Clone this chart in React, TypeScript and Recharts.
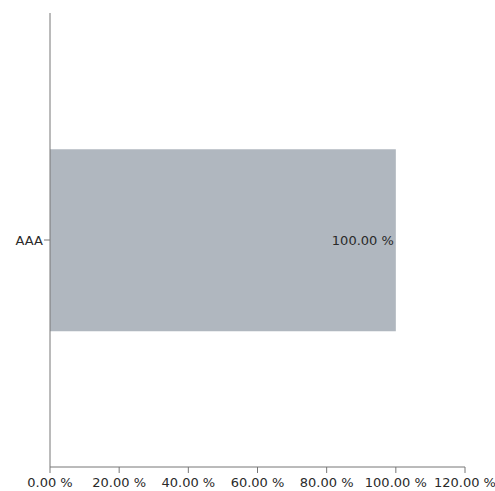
import React from 'react';
import { BarChart, Bar, XAxis, YAxis, LabelList } from 'recharts';

const categories = ['AAA'];
const shareValues = [100];
const xTicks = [0, 20, 40, 60, 80, 100, 120];

const data = categories.map((name, i) => ({ name, value: shareValues[i] }));

const pct = (v: number) => `${Number(v).toFixed(2)} %`;

const axisColor = '#777';
const textColor = '#2a2a2a';
const font = { fill: textColor, fontSize: 13, fontFamily: '"DejaVu Sans", sans-serif' };

export default function App() {
    return (
        <div style={{ position: 'absolute', left: 0, top: 0, width: 495, height: 491, background: '#fff' }}>
            <BarChart
                width={495}
                height={491}
                data={data}
                layout="vertical"
                margin={{ top: 13, right: 30, bottom: 0, left: 0 }}
                barCategoryGap="30%"
            >
                <XAxis
                    type="number"
                    domain={[0, 120]}
                    ticks={xTicks}
                    tickFormatter={pct}
                    height={24}
                    tickSize={6}
                    tickMargin={5}
                    stroke={axisColor}
                    tick={font}
                    interval={0}
                />
                <YAxis
                    type="category"
                    dataKey="name"
                    width={50}
                    tickSize={6}
                    tickMargin={1}
                    stroke={axisColor}
                    tick={font}
                />
                <Bar dataKey="value" fill="#b0b7bf" isAnimationActive={false}>
                    <LabelList dataKey="value" position="insideRight" offset={2} formatter={pct} style={font} />
                </Bar>
            </BarChart>
        </div>
    );
}
